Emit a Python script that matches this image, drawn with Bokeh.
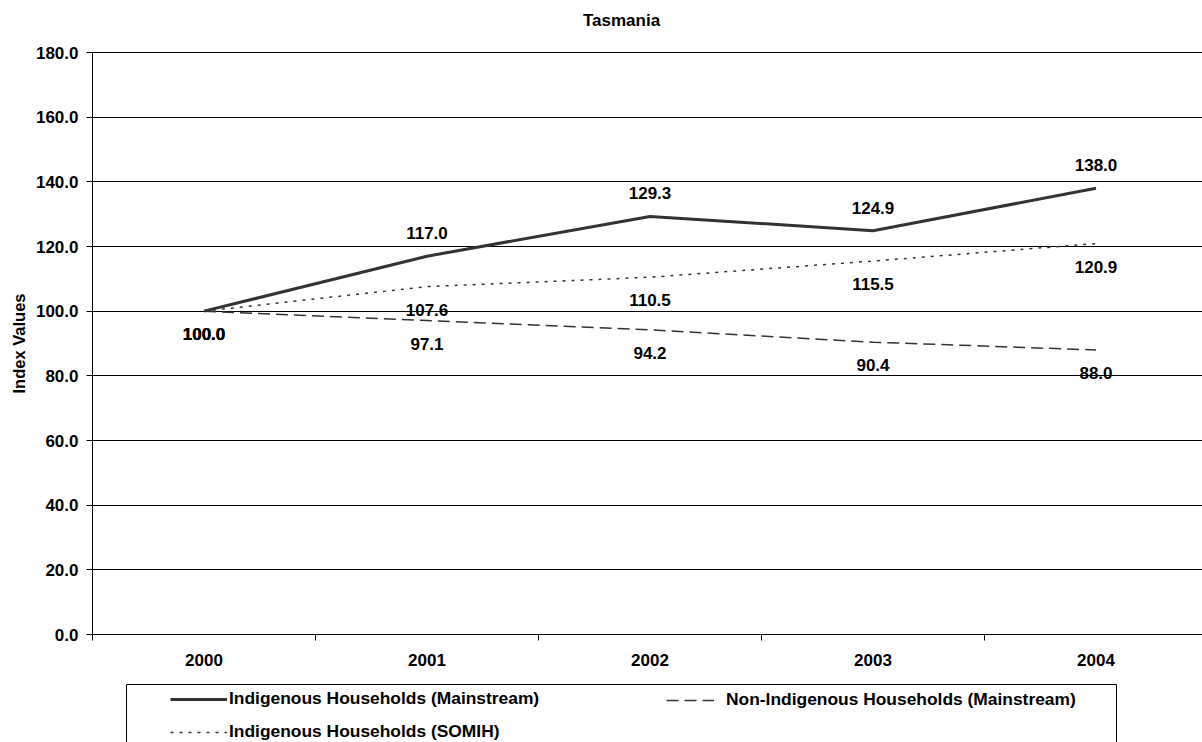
import math
from bokeh.plotting import figure
from bokeh.models import (FixedTicker, PrintfTickFormatter, Legend, LegendItem,
                          BoxAnnotation, Label, ColumnDataSource, Range1d)
from bokeh.core.properties import value
from bokeh.embed import file_html
from bokeh.resources import INLINE

# ---- data ----
years = ["2000", "2001", "2002", "2003", "2004"]
indig_mainstream = [100.0, 117.0, 129.3, 124.9, 138.0]
nonindig_mainstream = [100.0, 97.1, 94.2, 90.4, 88.0]
indig_somih = [100.0, 107.6, 110.5, 115.5, 120.9]
y_ticks = [0, 20, 40, 60, 80, 100, 120, 140, 160, 180]
title_text = "Tasmania"
y_label = "Index Values"
names = ["Indigenous Households (Mainstream)",
         "Non-Indigenous Households (Mainstream)",
         "Indigenous Households (SOMIH)"]

FONT = "Liberation Sans"
FS = "17px"
LEG_FS = "17.4px"
INK = "#333333"

W, H = 1202, 742
# pixel layout of the plotting area inside the canvas
PX_LEFT, PX_TOP, PX_BOTTOM = 92, 52, 634
CAT_W = 223
Y_MAX = y_ticks[-1]
unit = (PX_BOTTOM - PX_TOP) / Y_MAX

xs = [i + 0.5 for i in range(len(years))]
x_start = -PX_LEFT / CAT_W
x_end = (W - PX_LEFT) / CAT_W
y_start = -(H - PX_BOTTOM) / unit
y_end = Y_MAX + PX_TOP / unit

p = figure(width=W, height=H, output_backend="svg", toolbar_location=None,
           x_range=Range1d(x_start, x_end), y_range=Range1d(y_start, y_end),
           min_border_left=0, min_border_right=0,
           min_border_top=0, min_border_bottom=0)
p.outline_line_color = None

# y axis
p.yaxis.fixed_location = 0
p.yaxis.bounds = (0, Y_MAX)
p.yaxis.ticker = FixedTicker(ticks=y_ticks)
p.yaxis.formatter = PrintfTickFormatter(format="%.1f")
p.yaxis.major_tick_out = 6
p.yaxis.major_tick_in = 0
p.yaxis.minor_tick_out = 0
p.yaxis.minor_tick_in = 0
p.yaxis.major_label_standoff = 8

# x axis
p.xaxis.fixed_location = 0
p.xaxis.bounds = (0, x_end)
p.xaxis.ticker = FixedTicker(ticks=xs, minor_ticks=list(range(len(years) + 1)))
p.xaxis.major_label_overrides = {x: y for x, y in zip(xs, years)}
p.xaxis.major_tick_out = 0
p.xaxis.major_tick_in = 0
p.xaxis.minor_tick_out = 6
p.xaxis.minor_tick_in = 0
p.xaxis.major_label_standoff = 13

for ax in (p.xaxis, p.yaxis):
    ax.axis_line_color = "black"
    ax.major_tick_line_color = "black"
    ax.minor_tick_line_color = "black"
    ax.major_label_text_font = FONT
    ax.major_label_text_font_style = "bold"
    ax.major_label_text_font_size = FS
    ax.major_label_text_color = "black"

p.xgrid.grid_line_color = None
p.ygrid.ticker = FixedTicker(ticks=y_ticks)
p.ygrid.grid_line_color = "black"
p.ygrid.grid_line_width = 1
p.ygrid.cross_bounds = (0, x_end)

# lines
r1 = p.line(xs, indig_mainstream, line_color=INK, line_width=3)
r2 = p.line(xs, nonindig_mainstream, line_color=INK, line_width=1.5, line_dash="12 6")
r3 = p.line(xs, indig_somih, line_color=INK, line_width=1.5, line_dash="3 6")


def add_labels(vals, offsets):
    src = ColumnDataSource(dict(x=xs, y=vals, t=[f"{v:.1f}" for v in vals], off=offsets))
    p.text(x="x", y="y", text="t", y_offset="off", source=src,
           text_font=value(FONT), text_font_style="bold", text_font_size=FS,
           text_color="black", text_align="center", text_baseline="middle")


add_labels(indig_mainstream, [23] + [-23] * (len(years) - 1))
add_labels(nonindig_mainstream, [23] * len(years))
add_labels(indig_somih, [23] * len(years))

# title and y-axis title (screen units, frame == canvas)
p.add_layout(Label(x=621, y=H - 20, x_units="screen", y_units="screen",
                   text=title_text, text_font=FONT, text_font_style="bold",
                   text_font_size=FS, text_color="black",
                   text_align="center", text_baseline="middle"))
p.add_layout(Label(x=18, y=H - 343, x_units="screen", y_units="screen",
                   text=y_label, angle=math.pi / 2, text_font=FONT,
                   text_font_style="bold", text_font_size="16.5px",
                   text_color="black", text_align="center", text_baseline="middle"))

# legend box
p.add_layout(BoxAnnotation(left=126, right=1116, top=684, bottom=H + 20,
                           left_units="canvas", right_units="canvas",
                           top_units="canvas", bottom_units="canvas",
                           fill_alpha=0, line_color="black", line_alpha=1,
                           line_width=1))


def mk_legend(items, gw, standoff, x, y):
    L = Legend(items=items, location=(x, y), orientation="vertical",
               border_line_color=None, background_fill_alpha=0,
               padding=0, margin=0, spacing=12,
               glyph_width=gw, glyph_height=20, label_height=20,
               label_standoff=standoff,
               label_text_font=FONT, label_text_font_style="bold",
               label_text_font_size=LEG_FS, label_text_color="black")
    p.add_layout(L)


mk_legend([LegendItem(label=names[0], renderers=[r1]),
           LegendItem(label=names[2], renderers=[r3])], 57, 2, 170, 0)
mk_legend([LegendItem(label=names[1], renderers=[r2])], 48, 12, 666, 32)

open("out.html", "w").write(file_html(p, INLINE))
